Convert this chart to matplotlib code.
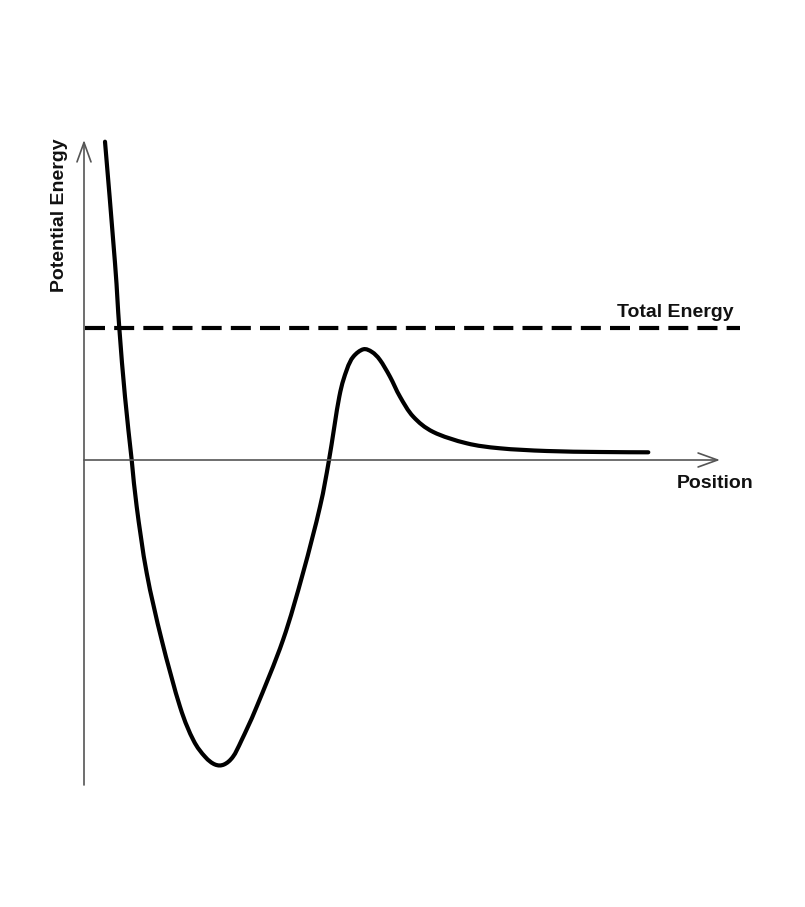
import numpy as np
import matplotlib
matplotlib.use('Agg')
import matplotlib.pyplot as plt
from matplotlib.path import Path
from matplotlib.patches import PathPatch

plt.rcParams['font.family'] = ['Liberation Sans', 'DejaVu Sans']

# potential energy curve (position, energy)
position = [0.20, 0.30, 0.343, 0.40, 0.467, 0.517, 0.617, 0.767, 0.95,
            1.083, 1.20, 1.30, 1.39, 1.48, 1.567, 1.717, 1.98,
            2.18, 2.35, 2.44, 2.543, 2.617, 2.683, 2.783, 2.87,
            2.95, 3.05, 3.15, 3.283, 3.483, 3.817, 4.15, 4.617, 5.15, 5.633]
energy = [3.183, 1.97, 1.32, 0.633, 0.0, -0.467, -1.13, -1.80, -2.467,
          -2.80, -2.967, -3.045, -3.045, -2.967, -2.80, -2.467, -1.80,
          -1.13, -0.467, 0.0, 0.633, 0.90, 1.033, 1.107, 1.08,
          1.0, 0.833, 0.633, 0.433, 0.28, 0.167, 0.117, 0.09, 0.08, 0.077]

total_energy = 1.32
x_axis_end = 6.35
y_axis_range = (-3.25, 3.2)
total_line_end = 6.55

fig = plt.figure(figsize=(8.05, 9.07), dpi=100)
ax = fig.add_axes([0, 0, 1, 1])
ax.set_xlim(-0.85, 7.2)
ax.set_ylim(-4.47, 4.60)
ax.axis('off')

axis_col = '#555555'
arrow = dict(arrowstyle='->,head_length=1.0,head_width=0.36', color=axis_col,
             lw=1.2, shrinkA=0, shrinkB=0, mutation_scale=14)
# y axis
ax.annotate('', xy=(-0.01, y_axis_range[1]), xytext=(-0.01, y_axis_range[0]),
            arrowprops=arrow)
# x axis
ax.annotate('', xy=(x_axis_end, 0), xytext=(-0.01, 0), arrowprops=arrow)

# total energy
ax.plot([0, total_line_end], [total_energy, total_energy], color='black', lw=3,
        ls=(0, (4.8, 2.2)), solid_capstyle='butt')

# potential curve, drawn as a smooth bezier path through the read points
pts = np.column_stack([position, energy])
ext = np.vstack([pts[0], pts, pts[-1]])
verts = [pts[0]]
codes = [Path.MOVETO]
for i in range(1, len(ext) - 2):
    p0, p1, p2, p3 = ext[i - 1], ext[i], ext[i + 1], ext[i + 2]
    verts += [p1 + (p2 - p0) / 6, p2 - (p3 - p1) / 6, p2]
    codes += [Path.CURVE4] * 3
ax.add_patch(PathPatch(Path(verts, codes), fill=False, edgecolor='black',
                       lw=3, joinstyle='round', capstyle='round'))

tc = '#111111'
ax.text(5.317, 1.433, 'Total Energy', fontsize=14, fontweight='bold',
        color=tc, va='baseline', ha='left')
ax.text(5.917, -0.28, 'Position', fontsize=14, fontweight='bold',
        color=tc, va='baseline', ha='left')
ax.text(-0.26, 2.445, 'Potential Energy', fontsize=14, fontweight='bold',
        color=tc, rotation=90, va='center', ha='center')

plt.savefig('out.png', dpi=100)
